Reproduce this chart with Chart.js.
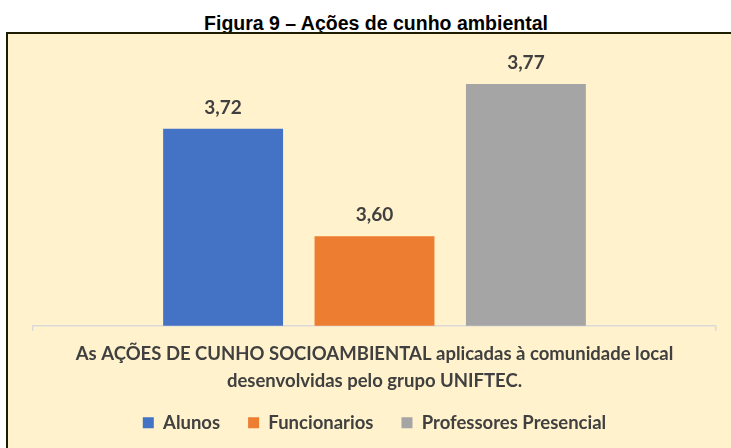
<!DOCTYPE html>
<html>
<head>
<meta charset="utf-8">
<script src="https://cdn.jsdelivr.net/npm/chart.js@4.4.1/dist/chart.umd.min.js"></script>
<style>
body{margin:0;background:#fff;width:731px;height:448px;overflow:hidden;position:relative;}
#titulo{position:absolute;left:0;top:12px;width:752px;text-align:center;font-family:"Liberation Sans",Arial,sans-serif;font-weight:bold;font-size:19.5px;color:#000;}
#caixa{position:absolute;left:6px;top:32px;width:760px;height:440px;border:2px solid #1c1c00;background:#fff2cc;}
#wrap{position:absolute;left:9px;top:34px;width:722px;height:433px;}
</style>
</head>
<body>
<div id="titulo">Figura 9 – Ações de cunho ambiental</div>
<div id="caixa"></div>
<div id="wrap"><canvas id="grafico"></canvas></div>
<script>
// dados
let categorias = [['As AÇÕES DE CUNHO SOCIOAMBIENTAL aplicadas à comunidade local','desenvolvidas pelo grupo UNIFTEC.']]
let series = ['Alunos','Funcionarios','Professores Presencial']
let valores = [[3.72],[3.60],[3.77]]
let cores = ['#4472c4','#ed7d31','#a5a5a5']

let fonte = 'Lato, "Open Sans", sans-serif'

// rotulos em cima das barras, com virgula
let rotulos = {
	id:'rotulos',
	afterDatasetsDraw:(chart)=>{
		let ctx = chart.ctx
		ctx.save()
		ctx.font = 'bold 19px '+fonte
		ctx.fillStyle = '#404040'
		ctx.textAlign = 'center'
		ctx.textBaseline = 'middle'
		chart.data.datasets.forEach((ds,i)=>{
			chart.getDatasetMeta(i).data.forEach((el,j)=>{
				ctx.fillText(ds.data[j].toFixed(2).replace('.',','), el.x, el.y-21)
			})
		})
		ctx.restore()
	}
}

// sobe a legenda pra ficar mais perto do texto do eixo
let subirLegenda = {
	id:'subirLegenda',
	afterLayout:(chart)=>{
		chart.legend.top -= 19
		chart.legend.bottom -= 19
	}
}

let datasets = series.map((nome,i)=>({
	label:nome,
	data:valores[i],
	backgroundColor:cores[i],
	categoryPercentage:0.665,
	barPercentage:0.792
}))

new Chart(document.getElementById('grafico'),{
	type:'bar',
	data:{labels:categorias,datasets:datasets},
	plugins:[rotulos,subirLegenda],
	options:{
		responsive:true,
		maintainAspectRatio:false,
		animation:false,
		layout:{padding:{left:24,right:15,top:23,bottom:6}},
		plugins:{
			tooltip:{enabled:false},
			legend:{
				position:'bottom',
				labels:{
					boxWidth:11,
					boxHeight:11,
					padding:28,
					color:'#404040',
					font:{family:fonte,size:18.5,weight:'bold'}
				}
			}
		},
		scales:{
			x:{
				grid:{display:true,drawOnChartArea:false,tickLength:5,color:'#d9d9d9',lineWidth:1.5},
				border:{color:'#d9d9d9',width:1.5},
				ticks:{
					color:'#404040',
					maxRotation:0,
					autoSkip:false,
					padding:10,
					font:{family:fonte,size:18.5,weight:'bold',lineHeight:1.45}
				}
			},
			y:{display:false,min:3.5,max:3.8}
		}
	}
})
</script>
</body>
</html>
